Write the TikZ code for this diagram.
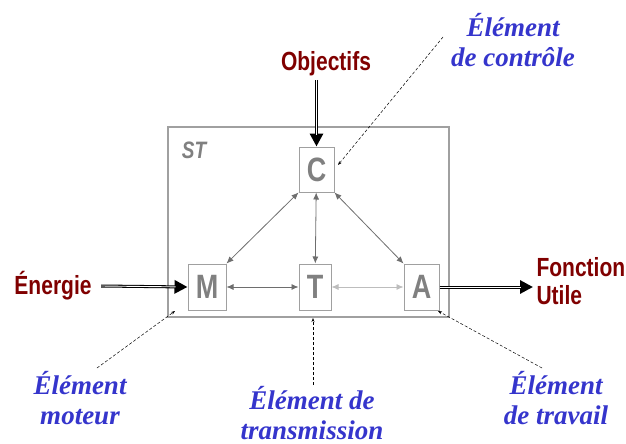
\documentclass[tikz,border=0pt]{standalone}
\usepackage{fontspec}
\setmainfont{Liberation Serif}
\setsansfont{Liberation Sans}
\usetikzlibrary{arrows.meta,positioning}
\definecolor{FluxRed}{HTML}{800000}
\definecolor{NoteBlue}{HTML}{3535CC}
\definecolor{BoxGrey}{HTML}{A0A0A0}
\definecolor{LetterGrey}{HTML}{808080}
\definecolor{LinkGrey}{HTML}{6E6E6E}
\newcommand{\tallS}[1]{\scalebox{1}[1.25]{#1}}
\begin{document}
\begin{tikzpicture}[x=1pt, y=-1pt,
    elem/.style={draw=BoxGrey, line width=1pt, minimum width=35pt, minimum height=46pt,
      inner sep=0pt, font=\sffamily\bfseries\fontsize{27}{27}\selectfont, text=LetterGrey},
    flux/.style={font=\sffamily\bfseries\fontsize{21}{28}\selectfont, text=FluxRed},
    note/.style={font=\rmfamily\bfseries\itshape\fontsize{27}{30}\selectfont, text=NoteBlue, align=center},
    link/.style={{Latex[length=7pt,width=6pt]}-{Latex[length=7pt,width=6pt]}, draw=LinkGrey, line width=0.8pt},
    feed/.style={-{Triangle[length=13pt,width=13pt]}, draw=black, line width=3pt,
      postaction={draw=white, line width=0.9pt, -, shorten >=12pt}},
    hint/.style={-{Stealth[length=4pt,width=3pt]}, densely dashed, line width=0.5pt}
  ]
    \useasboundingbox (0,0) rectangle (626,444);
    % system frame
    \node[draw=BoxGrey, line width=1.2pt, minimum width=281pt, minimum height=190pt, inner sep=0pt] (st) at (308.5,222) {};
    \node[font=\sffamily\bfseries\itshape\fontsize{19}{19}\selectfont, text=LetterGrey] (stlabel) at (194,150) {\tallS{ST}};
    % elements
    \node[elem, minimum height=45pt] (C) at (316.5,169.5) {\tallS{C}};
    \node[elem, minimum width=38pt] (M) at (207,287) {\tallS{M}};
    \node[elem, minimum width=32pt] (T) at (315,287) {\tallS{T}};
    \node[elem] (A) at (421.5,287) {\tallS{A}};
    \draw[link] (C.south west) -- (M.north east);
    \draw[link] (C) -- (T);
    \draw[link] (C.south east) -- (A.north west);
    \draw[link] (M) -- (T);
    \draw[link, draw=BoxGrey!70] (T) -- (A);
    % flows
    \node[flux] (obj) at (326,64) {\tallS{Objectifs}};
    \node[flux] (nrj) at (53,286) {\tallS{Énergie}};
    \node[flux, align=left, anchor=west] (fct) at (533,281) {\tallS{Fonction}\\\tallS{Utile}};
    \draw[feed] (obj.south -| C.north) -- (C.north);
    \draw[feed] ([xshift=6pt]nrj.east) -- (M.west);
    \draw[feed] (A.east) -- (A.east -| fct.west);
    % notes
    \node[note] (ctrl) at (513,40) {Élément\\de contrôle};
    \node[note] (mot) at (80,398) {Élément\\moteur};
    \node[note] (trans) at (312,413) {Élément de\\transmission};
    \node[note] (trav) at (556,398) {Élément\\de travail};
    \coordinate (ctrlfrom) at (443,37);
    \coordinate (ctrlto) at (338,165);
    \coordinate (motfrom) at (97,368);
    \coordinate (motto) at (175,311);
    \coordinate (transfrom) at (313,385);
    \coordinate (transto) at (313,318);
    \coordinate (travfrom) at (542,368);
    \coordinate (travto) at (438,311);
    \draw[hint] (ctrlfrom) -- (ctrlto);
    \draw[hint] (motfrom) -- (motto);
    \draw[hint] (transfrom) -- (transto);
    \draw[hint] (travfrom) -- (travto);
  \end{tikzpicture}
\end{document}
